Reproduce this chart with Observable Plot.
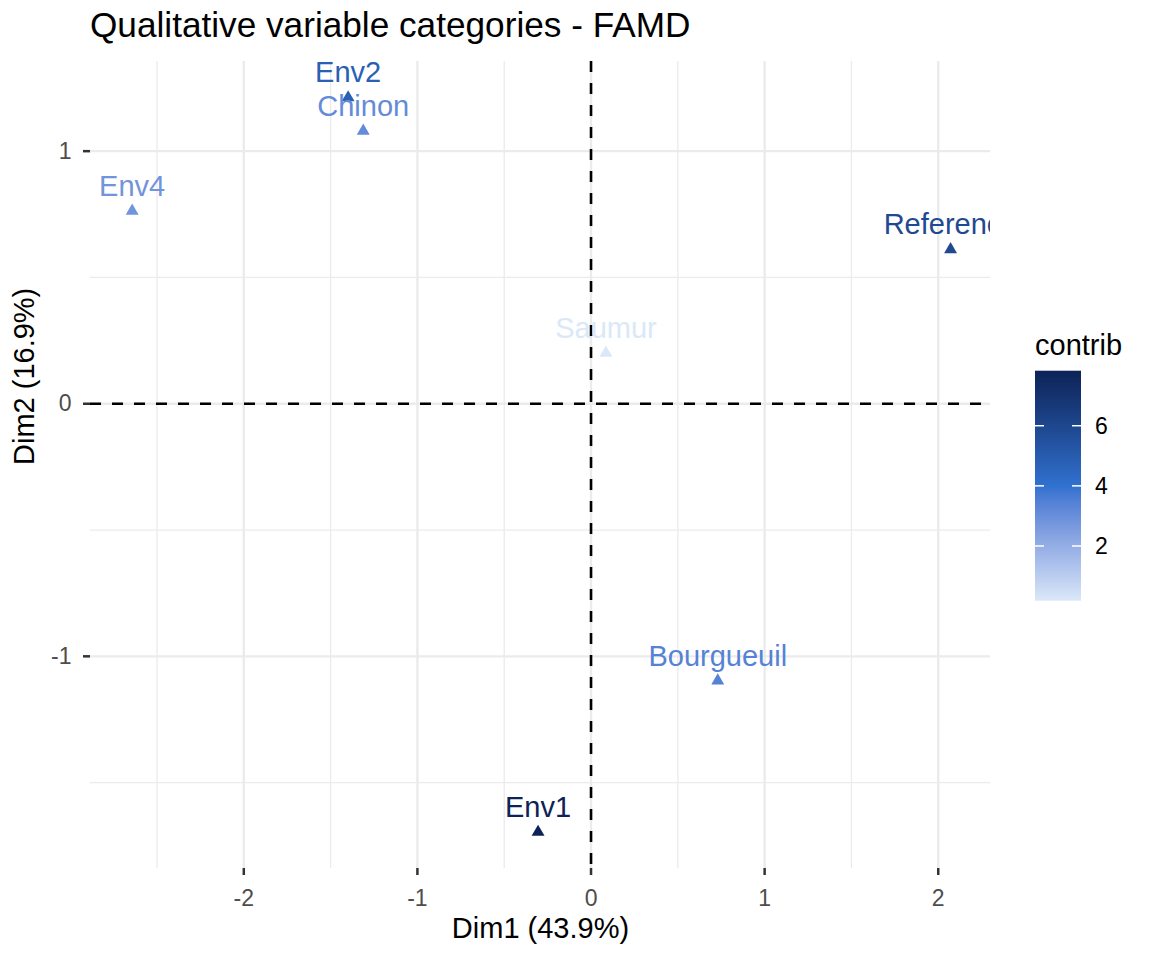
<!DOCTYPE html>
<html><head><meta charset="utf-8">
<script src="https://cdn.jsdelivr.net/npm/d3@7"></script>
<script src="https://cdn.jsdelivr.net/npm/@observablehq/plot@0.6"></script>
<style>
body{margin:0;background:#fff;font-family:"Liberation Sans",Arial,Helvetica,sans-serif;}
#wrap{position:relative;width:1152px;height:960px;overflow:hidden;}
#title{position:absolute;left:90px;top:7px;font-size:35.2px;line-height:1;color:#000;white-space:nowrap;}
#legend{position:absolute;left:0;top:0;pointer-events:none;}
</style></head><body>
<div id="wrap"><div id="chart"></div><div id="title">Qualitative variable categories - FAMD</div></div>
<script>
const categories = ["Env2","Chinon","Env4","Reference","Saumur","Bourgueuil","Env1"];
const dim1 = [-1.399,-1.312,-2.643,2.071,0.086,0.730,-0.305];
const dim2 = [1.212,1.080,0.763,0.611,0.201,-1.097,-1.696];
const contrib = [4.8,3.1,2.8,5.9,0.18,3.4,7.83];
const xTicks = [-2,-1,0,1,2];
const yTicks = [-1,0,1];
const xMinor = [-2.5,-1.5,-0.5,0.5,1.5];
const yMinor = [-1.5,-0.5,0.5];
const legendTicks = [2,4,6];
const xLabel = "Dim1 (43.9%)";
const yLabel = "Dim2 (16.9%)";
const legendTitle = "contrib";

const font = '"Liberation Sans",Arial,Helvetica,sans-serif';
const data = categories.map((name,i)=>({name, x: dim1[i], y: dim2[i], contrib: contrib[i]}));
const cMin = d3.min(contrib), cMax = d3.max(contrib);
const fmt = d => String(d);

const plot = Plot.plot({
  width:1152, height:960,
  marginLeft:90, marginRight:162, marginTop:61, marginBottom:92,
  style:{fontFamily:font, background:"transparent", overflow:"visible"},
  x:{domain:[-2.883,2.301], label:null},
  y:{domain:[-1.840,1.355], label:null},
  color:{type:"linear", domain:[cMin,4.0,cMax], range:["#dae8f8","#3171cf","#0d2357"], interpolate:"lab"},
  marks:[
    Plot.ruleX(xMinor,{stroke:"#ebebeb",strokeWidth:1.3}),
    Plot.ruleY(yMinor,{stroke:"#ebebeb",strokeWidth:1.3}),
    Plot.ruleX(xTicks,{stroke:"#ebebeb",strokeWidth:2.4}),
    Plot.ruleY(yTicks,{stroke:"#ebebeb",strokeWidth:2.4}),
    Plot.ruleX([0],{stroke:"#000",strokeWidth:2.6,strokeDasharray:"11,11"}),
    Plot.ruleY([0],{stroke:"#000",strokeWidth:2.6,strokeDasharray:"11,11"}),
    Plot.axisX(xTicks,{tickSize:7, tickPadding:14, fontSize:23, fill:"#4d4d4d", stroke:"#333", strokeWidth:2.5, label:null, tickFormat:fmt}),
    Plot.axisY(yTicks,{tickSize:7, tickPadding:12, fontSize:23, fill:"#4d4d4d", stroke:"#333", strokeWidth:2.5, label:null, tickFormat:fmt}),
    Plot.text([xLabel],{frameAnchor:"bottom", dy:60, lineAnchor:"middle", fontSize:29, fill:"#000"}),
    Plot.text([yLabel],{frameAnchor:"left", dx:-66, rotate:-90, lineAnchor:"middle", fontSize:29, fill:"#000"}),
    Plot.dot(data,{x:"x", y:"y", symbol:"triangle", fill:"contrib", r:4.8, clip:true}),
    Plot.text(data,{x:"x", y:"y", text:"name", fill:"contrib", fontSize:29, lineAnchor:"bottom", dy:-15.3, clip:true})
  ]
});
document.getElementById("chart").appendChild(plot);

// legend (vertical colour bar) built from the plot's own colour scale
const cs = Plot.scale({color: plot.scale("color")});
const lg = d3.select("#wrap").append("svg").attr("id","legend").attr("width",1152).attr("height",960)
  .style("font-family", font);
const barX = 1035, barW = 46, barTop = 370.7, barBottom = 600.7;
const ly = d3.scaleLinear([cMin,cMax],[barBottom,barTop]);
const grad = lg.append("defs").append("linearGradient").attr("id","cg")
  .attr("x1",0).attr("y1",1).attr("x2",0).attr("y2",0);
d3.range(0,1.0001,0.02).forEach(t=>{
  grad.append("stop").attr("offset",t).attr("stop-color",cs.apply(cMin + t*(cMax-cMin)));
});
lg.append("text").attr("x",barX).attr("y",355).attr("font-size",29).attr("fill","#000").text(legendTitle);
lg.append("rect").attr("x",barX).attr("y",barTop).attr("width",barW).attr("height",barBottom-barTop).attr("fill","url(#cg)");
legendTicks.forEach(v=>{
  const y = ly(v);
  lg.append("line").attr("x1",barX).attr("x2",barX+9).attr("y1",y).attr("y2",y).attr("stroke","#fff").attr("stroke-width",1.5);
  lg.append("line").attr("x1",barX+barW-9).attr("x2",barX+barW).attr("y1",y).attr("y2",y).attr("stroke","#fff").attr("stroke-width",1.5);
  lg.append("text").attr("x",1095).attr("y",y).attr("dy","0.35em").attr("font-size",23).attr("fill","#000").text(v);
});
</script>
</body></html>
